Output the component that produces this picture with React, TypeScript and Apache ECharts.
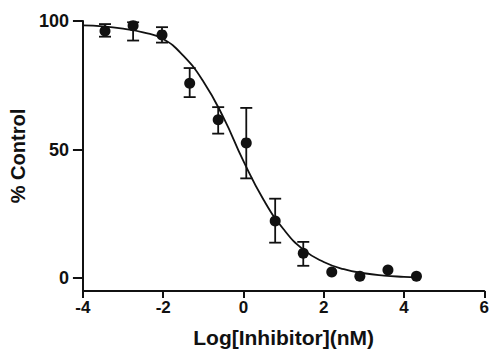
import React, { useEffect, useRef } from "react";
import * as echarts from "echarts";

// Measured points (log concentration, % control)
const doseLog = [-3.45, -2.75, -2.03, -1.34, -0.63, 0.07, 0.79, 1.49, 2.2, 2.9, 3.6, 4.31];
const meanPct = [96.1, 98.2, 94.6, 75.8, 61.6, 52.6, 22.2, 9.7, 2.4, 0.7, 3.2, 0.7];
const errLow: (number | null)[] = [93.9, 92.4, 91.6, 70.4, 56.2, 38.8, 13.8, 4.8, null, null, null, null];
const errHigh: (number | null)[] = [98.8, 99.5, 97.6, 81.7, 66.5, 66.2, 30.9, 14.1, null, null, null, null];

// Fitted curve
const curveX = [-4, -3.5, -3, -2.5, -2, -1.5, -1, -0.5, 0, 0.5, 1, 1.5, 2, 2.5, 3, 3.5, 4, 4.3];
const curveY = [98.3, 97.9, 97.0, 95.6, 93.0, 86.5, 76.5, 62.5, 45.5, 30.5, 19.0, 11.0, 6.3, 3.5, 1.9, 1.0, 0.5, 0.3];

// Axis ticks
const xTicks = [-4, -2, 0, 2, 4, 6];
const yTicks = [0, 50, 100];

const INK = "#111111";
const FONT = "'Liberation Sans', Arial, Helvetica, sans-serif";

export default function App() {
  const ref = useRef<HTMLDivElement>(null);
  useEffect(() => {
    if (!ref.current) return;
    const chart = echarts.init(ref.current, null, { renderer: "svg" });
    const errData = doseLog
      .map((x, i) => [x, errLow[i], errHigh[i]])
      .filter((d) => d[1] !== null && d[2] !== null);
    const option: any = {
      animation: false,
      backgroundColor: "#ffffff",
      grid: { left: 79, right: 5, top: 21, bottom: 61, containLabel: false },
      xAxis: {
        type: "value",
        min: xTicks[0],
        max: xTicks[xTicks.length - 1],
        interval: 2,
        axisLine: { show: true, onZero: false, lineStyle: { color: INK, width: 2 } },
        axisTick: { show: true, inside: false, length: 7, lineStyle: { color: INK, width: 2 } },
        axisLabel: { color: INK, fontFamily: FONT, fontWeight: "bold", fontSize: 17, margin: 8 },
        splitLine: { show: false },
        name: "Log[Inhibitor](nM)",
        nameLocation: "middle",
        nameGap: 36,
        nameTextStyle: { color: INK, fontFamily: FONT, fontWeight: "bold", fontSize: 21 },
      },
      yAxis: {
        type: "value",
        min: -5,
        max: 100,
        axisLine: { show: true, onZero: false, lineStyle: { color: INK, width: 2 } },
        axisTick: { show: true, inside: false, length: 10, customValues: yTicks, lineStyle: { color: INK, width: 2 } },
        axisLabel: { customValues: yTicks, color: INK, fontFamily: FONT, fontWeight: "bold", fontSize: 18, margin: 14 },
        splitLine: { show: false },
        name: "% Control",
        nameLocation: "middle",
        nameRotate: 90,
        nameGap: 46,
        nameTextStyle: { color: INK, fontFamily: FONT, fontWeight: "bold", fontSize: 20 },
      },
      series: [
        {
          type: "line",
          data: curveX.map((x, i) => [x, curveY[i]]),
          smooth: true,
          showSymbol: false,
          symbol: "none",
          lineStyle: { color: INK, width: 1.8 },
          z: 1,
        },
        {
          type: "custom",
          data: errData,
          encode: { x: 0, y: [1, 2] },
          renderItem: (params: any, api: any) => {
            const x = api.value(0);
            const lo = api.coord([x, api.value(1)]);
            const hi = api.coord([x, api.value(2)]);
            const w = 6;
            const st = { stroke: INK, lineWidth: 1.8 };
            return {
              type: "group",
              children: [
                { type: "line", shape: { x1: lo[0], y1: lo[1], x2: hi[0], y2: hi[1] }, style: st },
                { type: "line", shape: { x1: lo[0] - w, y1: lo[1], x2: lo[0] + w, y2: lo[1] }, style: st },
                { type: "line", shape: { x1: hi[0] - w, y1: hi[1], x2: hi[0] + w, y2: hi[1] }, style: st },
              ],
            };
          },
          z: 2,
        },
        {
          type: "scatter",
          data: doseLog.map((x, i) => [x, meanPct[i]]),
          symbol: "circle",
          symbolSize: 11,
          itemStyle: { color: INK, opacity: 1 },
          z: 3,
        },
      ],
    };
    chart.setOption(option);
    return () => chart.dispose();
  }, []);
  return <div ref={ref} style={{ width: 492, height: 353, position: "absolute", left: 0, top: 0 }} />;
}
